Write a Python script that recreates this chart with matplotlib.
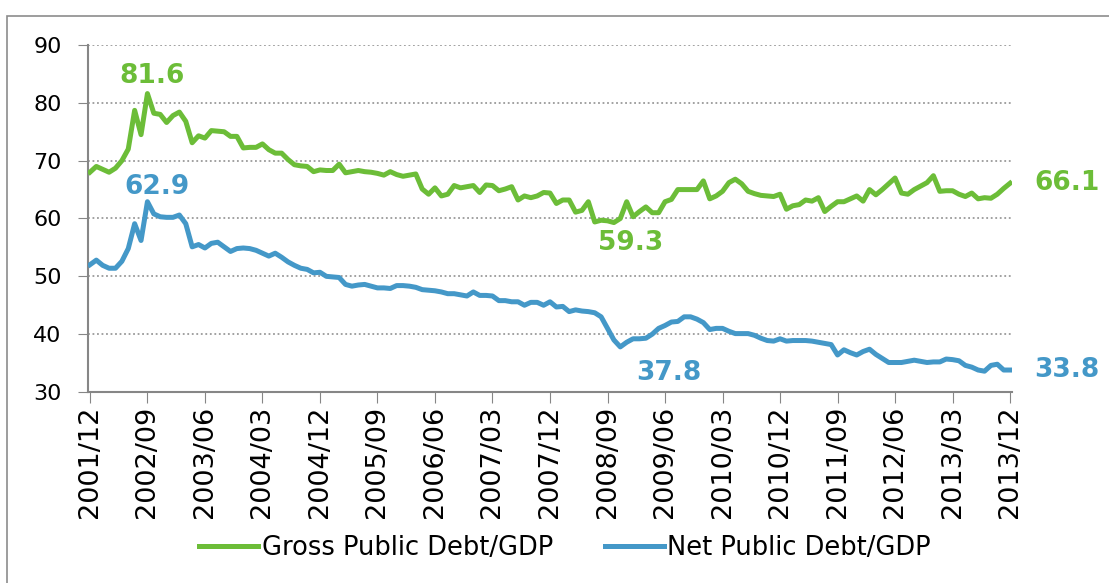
import matplotlib
matplotlib.use("Agg")
import matplotlib.pyplot as plt
import matplotlib.patches as mpatches
import numpy as np

# monthly, 2001/12 .. 2013/12
gross = [68.0, 69.0, 68.5, 68.0, 68.7, 70.0, 72.0, 78.7, 74.5, 81.6,
         78.2, 78.0, 76.6, 77.8, 78.4, 76.8, 73.1, 74.3, 73.9, 75.2,
         75.1, 75.0, 74.2, 74.2, 72.2, 72.3, 72.3, 72.9, 71.9, 71.3,
         71.3, 70.2, 69.3, 69.1, 69.0, 68.1, 68.4, 68.3, 68.3, 69.4,
         67.9, 68.1, 68.3, 68.1, 68.0, 67.8, 67.5, 68.1, 67.6, 67.3,
         67.5, 67.7, 65.1, 64.2, 65.3, 63.9, 64.2, 65.7, 65.3, 65.5,
         65.7, 64.5, 65.8, 65.7, 64.8, 65.1, 65.5, 63.2, 63.9, 63.6,
         63.9, 64.5, 64.4, 62.6, 63.2, 63.2, 61.1, 61.4, 62.9, 59.4,
         59.7, 59.6, 59.3, 60.0, 62.9, 60.3, 61.2, 62.0, 61.0, 61.0,
         62.9, 63.3, 65.0, 65.0, 65.0, 65.0, 66.5, 63.4, 63.9, 64.7,
         66.2, 66.8, 66.0, 64.7, 64.3, 64.0, 63.9, 63.8, 64.2, 61.6,
         62.2, 62.4, 63.2, 63.0, 63.6, 61.2, 62.1, 62.9, 62.9, 63.4,
         63.9, 63.0, 65.0, 64.1, 65.0, 66.0, 67.0, 64.4, 64.2, 65.0,
         65.6, 66.2, 67.4, 64.7, 64.8, 64.8, 64.2, 63.8, 64.4, 63.4,
         63.6, 63.5, 64.2, 65.2, 66.1]

net = [52.0, 52.8, 51.9, 51.4, 51.4, 52.6, 54.8, 59.1, 56.2, 62.9,
       60.8, 60.3, 60.2, 60.2, 60.6, 59.1, 55.1, 55.5, 54.9, 55.7,
       55.9, 55.1, 54.3, 54.8, 54.9, 54.8, 54.5, 54.0, 53.5, 54.0,
       53.3, 52.5, 51.9, 51.4, 51.2, 50.6, 50.7, 50.0, 49.9, 49.8,
       48.6, 48.3, 48.5, 48.6, 48.3, 48.0, 48.0, 47.9, 48.4, 48.4,
       48.3, 48.1, 47.7, 47.6, 47.5, 47.3, 47.0, 47.0, 46.8, 46.6,
       47.3, 46.7, 46.7, 46.6, 45.8, 45.8, 45.6, 45.6, 45.0, 45.5,
       45.5, 45.0, 45.6, 44.7, 44.8, 43.9, 44.2, 44.0, 43.9, 43.7,
       43.0, 41.0, 39.0, 37.8, 38.6, 39.2, 39.2, 39.3, 40.0, 41.0,
       41.5, 42.1, 42.2, 43.0, 43.0, 42.6, 42.0, 40.8, 41.0, 41.0,
       40.5, 40.1, 40.1, 40.1, 39.8, 39.3, 38.9, 38.8, 39.2, 38.8,
       38.9, 38.9, 38.9, 38.8, 38.6, 38.4, 38.2, 36.4, 37.3, 36.8,
       36.4, 37.0, 37.4, 36.5, 35.8, 35.1, 35.1, 35.1, 35.3, 35.5,
       35.3, 35.1, 35.2, 35.2, 35.7, 35.6, 35.4, 34.6, 34.3, 33.8,
       33.6, 34.6, 34.8, 33.8, 33.8]

tick_labels = ["2001/12", "2002/09", "2003/06", "2004/03", "2004/12", "2005/09",
               "2006/06", "2007/03", "2007/12", "2008/09", "2009/06", "2010/03",
               "2010/12", "2011/09", "2012/06", "2013/03", "2013/12"]

# highlighted values: month index, label
gross_marks = [(9, "81.6"), (82, "59.3"), (144, "66.1")]
net_marks = [(9, "62.9"), (83, "37.8"), (144, "33.8")]

green = "#6CBD38"
blue = "#4498C8"
gray = "#868686"

W, H = 1109, 583
fig = plt.figure(figsize=(W / 100, H / 100), dpi=100)

# outer chart frame
fig.patches.append(mpatches.Rectangle((7 / W, -0.1), 1.2, 1 - 16 / H + 0.1,
                                      transform=fig.transFigure, fill=False,
                                      edgecolor="#8C8C8C", lw=1.2))

ax = fig.add_axes([88 / W, 1 - 392 / H, (1012 - 88) / W, (392 - 45) / H])
x = np.arange(len(gross))
ax.plot(x, gross, color=green, lw=3.6, solid_joinstyle="round",
        label="Gross Public Debt/GDP", zorder=3)
ax.plot(x, net, color=blue, lw=3.6, solid_joinstyle="round",
        label="Net Public Debt/GDP", zorder=3)

ax.set_xlim(-0.3, 144.3)
ax.set_ylim(30, 90)
ax.set_yticks(range(30, 91, 10))
ax.set_xticks(np.arange(0, 145, 9))
ax.set_xticklabels(tick_labels, rotation=90, fontsize=19.5)
ax.tick_params(axis="y", labelsize=16, length=7, color=gray, pad=12)
ax.tick_params(axis="x", length=8, color=gray, pad=2)
ax.grid(axis="y", linestyle=(0, (1, 1.5)), color="#9A9A9A", lw=1.3)
ax.set_axisbelow(True)
for s in ["top", "right"]:
    ax.spines[s].set_visible(False)
for s in ["left", "bottom"]:
    ax.spines[s].set_color(gray)
    ax.spines[s].set_linewidth(1.5)

# value labels: (dx, dy) offsets in data units
g_off = {9: (0.8, 3.0), 82: (2.6, -3.5)}
n_off = {9: (1.5, 2.5), 83: (7.6, -4.5)}
lab = dict(fontsize=19, fontweight="bold", va="center", clip_on=False)
for i, t in gross_marks:
    if i == 144:
        ax.text(147.8, gross[i], t, color=green, ha="left", **lab)
    else:
        dx, dy = g_off[i]
        ax.text(i + dx, gross[i] + dy, t, color=green, ha="center", **lab)
for i, t in net_marks:
    if i == 144:
        ax.text(147.8, net[i], t, color=blue, ha="left", **lab)
    else:
        dx, dy = n_off[i]
        ax.text(i + dx, net[i] + dy, t, color=blue, ha="center", **lab)

fig.legend(loc="center", bbox_to_anchor=(565 / W, 1 - 548 / H), ncol=2,
           frameon=False, fontsize=18.5, handlelength=2.3, handletextpad=0.15,
           columnspacing=2.0)

fig.savefig("out.png", dpi=100)
